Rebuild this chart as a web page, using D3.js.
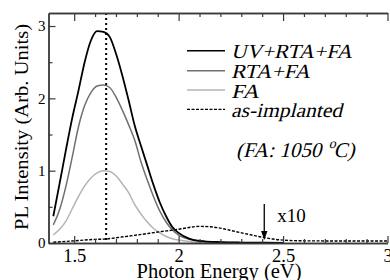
<!DOCTYPE html>
<html><head><meta charset="utf-8">
<script src="https://cdn.jsdelivr.net/npm/d3@7"></script>
<style>
body{margin:0;background:#fff}
svg{display:block}
text{font-family:"Liberation Serif","Times New Roman",serif;fill:#000}
</style>
</head><body>
<svg id="c" width="390" height="280"></svg>
<script>
// ---- data ----
const energyPL = [1.40,1.43,1.46,1.49,1.52,1.55,1.58,1.61,1.64,1.67,1.70,1.73,1.76,1.79,1.82,1.85,1.88,1.91,1.94,1.97,2.00,2.05,2.10,2.20,2.30,2.40,2.50];
const uvRtaFa  = [0.37,0.82,1.28,1.72,2.10,2.50,2.80,2.93,2.92,2.85,2.62,2.32,1.98,1.62,1.34,1.07,0.80,0.56,0.37,0.22,0.14,0.06,0.03,0.012,0.006,0.004,0.003];
const rtaFa    = [0.25,0.46,0.78,1.18,1.60,1.90,2.08,2.17,2.185,2.15,2.02,1.84,1.64,1.42,1.12,0.87,0.64,0.44,0.29,0.18,0.11,0.05,0.025,0.01,0.005,0.003,0.002];
const fa       = [0.11,0.19,0.30,0.47,0.64,0.79,0.90,0.97,1.00,0.99,0.93,0.82,0.70,0.53,0.40,0.29,0.20,0.14,0.09,0.06,0.04,0.02,0.01,0.005,0.003,0.002,0.001];
const energyAI    = [1.40,1.50,1.60,1.65,1.72,1.80,1.91,2.00,2.05,2.10,2.15,2.20,2.27,2.35,2.40,2.45,2.50,2.60,2.80,3.00];
const asImplanted = [0.01,0.03,0.05,0.055,0.08,0.11,0.155,0.19,0.215,0.23,0.225,0.205,0.16,0.11,0.08,0.055,0.04,0.03,0.028,0.028];
const xTickValues = [1.5,2,2.5,3];
const xTickLabels = ["1.5","2","2.5","3"];
const yTickValues = [0,1,2,3];
const yTickLabels = ["0","1","2","3"];
const legendLabels = ["UV+RTA+FA","RTA+FA","FA","as-implanted"];
const seriesColors = ["#000000","#707070","#b4b4b4","#000000"];
const markerEnergy = 1.653;
const arrowEnergy = 2.41;
const arrowFrom = 0.54, arrowTo = 0.04;
const annotation = "x10";

// ---- scales ----
const svg = d3.select("#c");
const x = d3.scaleLinear().domain([1.377,3.0]).range([48.5,387.5]);
const y = d3.scaleLinear().domain([0,3.18]).range([243,13]);
const [x0,x1] = x.range();
const [yb,yt] = y.range();
const axisColor = "#3a3a3a";

// ---- curves ----
const line = d3.line().x(d=>x(d[0])).y(d=>y(d[1])).curve(d3.curveMonotoneX);
const plSeries = [uvRtaFa, rtaFa, fa];
[2,1,0].forEach(i=>{
  const vals = plSeries[i];
  svg.append("path").datum(energyPL.map((e,k)=>[e,vals[k]]))
    .attr("d",line).attr("fill","none").attr("stroke",seriesColors[i])
    .attr("stroke-width", i===0?1.8:1.5);
});
svg.append("path").datum(energyAI.map((e,k)=>[e,asImplanted[k]]))
  .attr("d",line).attr("fill","none").attr("stroke","#000")
  .attr("stroke-width",1.4).attr("stroke-dasharray","3,1.5");

// dotted marker line
svg.append("line").attr("x1",x(markerEnergy)).attr("x2",x(markerEnergy))
  .attr("y1",yt).attr("y2",yb).attr("stroke","#000").attr("stroke-width",2)
  .attr("stroke-dasharray","2,3");

// ---- axes ----
function styleAxis(g){
  g.attr("font-family",null);
  g.select(".domain").attr("stroke",axisColor).attr("stroke-width",1.4);
  g.selectAll(".tick line").attr("stroke",axisColor).attr("stroke-width",1.2);
}
const minorX = d3.range(15,31).map(v=>v/10).filter(v=>!xTickValues.includes(v));
svg.append("g").attr("transform",`translate(0,${yb})`)
  .call(d3.axisBottom(x).tickValues(minorX).tickSizeInner(-4).tickSizeOuter(0).tickFormat(""))
  .call(styleAxis);
const gxb = svg.append("g").attr("transform",`translate(0,${yb})`)
  .call(d3.axisBottom(x).tickValues(xTickValues).tickSizeInner(-7).tickSizeOuter(0)
     .tickFormat((d,i)=>xTickLabels[i]))
  .call(styleAxis);
gxb.selectAll("text").attr("font-size",18.5).attr("dy",null).attr("y",18.5).attr("fill","#000");
svg.append("g").attr("transform",`translate(0,${yt})`)
  .call(d3.axisTop(x).tickValues(minorX).tickSizeInner(-4).tickSizeOuter(0).tickFormat(""))
  .call(styleAxis);
svg.append("g").attr("transform",`translate(0,${yt})`)
  .call(d3.axisTop(x).tickValues(xTickValues).tickSizeInner(-8).tickSizeOuter(0).tickFormat(""))
  .call(styleAxis);
svg.append("g").attr("transform",`translate(${x0},0)`)
  .call(d3.axisLeft(y).tickValues([0.5,1.5,2.5]).tickSizeInner(-4).tickSizeOuter(0).tickFormat(""))
  .call(styleAxis);
const gyl = svg.append("g").attr("transform",`translate(${x0},0)`)
  .call(d3.axisLeft(y).tickValues(yTickValues).tickSizeInner(-7).tickSizeOuter(0)
     .tickPadding(3).tickFormat((d,i)=>yTickLabels[i]))
  .call(styleAxis);
gyl.selectAll("text").attr("font-size",15).attr("fill","#000");

// axis titles
svg.append("text").attr("x",219).attr("y",277.5).attr("text-anchor","middle")
  .attr("font-size",20).attr("textLength",165).attr("lengthAdjust","spacingAndGlyphs")
  .text("Photon Energy (eV)");
svg.append("text").attr("transform","translate(28,127) rotate(-90)")
  .attr("text-anchor","middle").attr("font-size",19.5)
  .attr("textLength",206).attr("lengthAdjust","spacingAndGlyphs")
  .text("PL Intensity (Arb. Units)");

// ---- legend (italic emulated with skew) ----
const legY = [50.7,70.7,90,109.3];
const legW = [121,79,28,111];
legendLabels.forEach((lab,i)=>{
  svg.append("line").attr("x1",187).attr("x2",225).attr("y1",legY[i]).attr("y2",legY[i])
    .attr("stroke",seriesColors[i]).attr("stroke-width",i===3?1.3:1.5)
    .attr("stroke-dasharray",i===3?"3,1.5":null);
  svg.append("text").attr("transform",`translate(231,${legY[i]+7.5}) skewX(-14)`)
    .attr("font-size",20).attr("textLength",legW[i]).attr("lengthAdjust","spacingAndGlyphs")
    .text(lab);
});

// (FA: 1050 oC)
const ft = svg.append("text").attr("transform","translate(236,156.5) skewX(-14)").attr("font-size",21);
ft.append("tspan").text("(FA: 1050 ");
ft.append("tspan").attr("font-size",14).attr("dy",-9).text("o");
ft.append("tspan").attr("dy",9).text("C)");

// arrow + x10
const ax = x(arrowEnergy);
svg.append("line").attr("x1",ax).attr("x2",ax).attr("y1",y(arrowFrom)).attr("y2",y(arrowTo)-6)
  .attr("stroke","#000").attr("stroke-width",1.3);
svg.append("path").attr("d",`M${ax-3.2},${y(arrowTo)-9}L${ax+3.2},${y(arrowTo)-9}L${ax},${y(arrowTo)}Z`)
  .attr("fill","#000");
svg.append("text").attr("x",ax+13).attr("y",y(arrowFrom)+18.5).attr("font-size",19).text(annotation);
</script>
</body></html>
